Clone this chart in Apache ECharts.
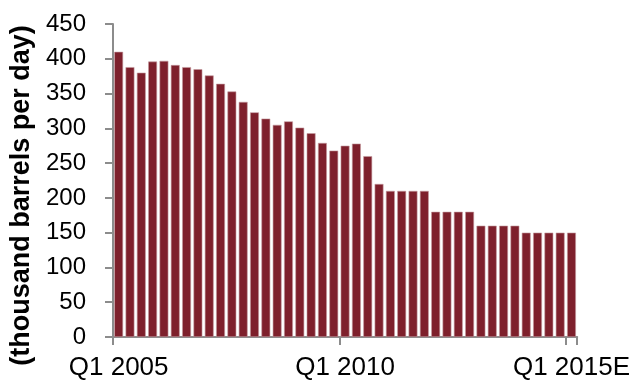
<!DOCTYPE html>
<html>
<head>
<meta charset="utf-8">
<script src="https://cdn.jsdelivr.net/npm/echarts@6/dist/echarts.min.js"></script>
<style>
  html, body { margin: 0; padding: 0; background: #ffffff; }
  #chart { width: 633px; height: 381px; }
</style>
</head>
<body>
<div id="chart"></div>
<script>
// Quarterly production, Q1 2005 through Q1 2015 (estimate)
const years = [2005, 2006, 2007, 2008, 2009, 2010, 2011, 2012, 2013, 2014, 2015];
const quarters = [];
years.forEach(function (y) {
  for (let q = 1; q <= 4; q++) {
    if (y === 2015 && q > 1) break;
    quarters.push('Q' + q + ' ' + y + (y === 2015 ? 'E' : ''));
  }
});

// thousand barrels per day
const production = [
  410, 388, 380, 396, 397, 391, 388, 385, 376, 364,
  353, 338, 323, 314, 305, 310, 301, 293, 279, 268,
  275, 278, 260, 220, 210, 210, 210, 210, 180, 180,
  180, 180, 160, 160, 160, 160, 150, 150, 150, 150,
  150
];

const yTicks = { min: 0, max: 450, step: 50 };

const axisGrey = '#8c8c8c';
const fontFamily = '"Liberation Sans", Arial, sans-serif';

const chart = echarts.init(document.getElementById('chart'), null, { renderer: 'canvas' });

chart.setOption({
  animation: false,
  backgroundColor: '#ffffff',
  grid: { left: 110, right: 54.5, top: 24, bottom: 43.5, containLabel: false },
  xAxis: {
    type: 'category',
    data: quarters,
    boundaryGap: true,
    axisLine: { lineStyle: { color: axisGrey, width: 2 } },
    axisTick: { show: true, interval: 19, length: 8, lineStyle: { color: axisGrey, width: 2 } },
    axisLabel: {
      interval: 19,
      margin: 18,
      color: '#000000',
      fontSize: 26,
      fontFamily: fontFamily
    },
    splitLine: { show: false }
  },
  yAxis: {
    type: 'value',
    min: yTicks.min,
    max: yTicks.max,
    interval: yTicks.step,
    name: '(thousand barrels per day)',
    nameLocation: 'middle',
    nameGap: 78,
    nameTextStyle: {
      color: '#000000',
      fontSize: 27,
      fontWeight: 'bold',
      fontFamily: fontFamily,
      padding: [0, 30, 0, 0]
    },
    axisLine: { show: true, lineStyle: { color: axisGrey, width: 2 } },
    axisTick: { show: true, length: 8, lineStyle: { color: axisGrey, width: 2 } },
    axisLabel: {
      margin: 27,
      color: '#000000',
      fontSize: 24,
      fontFamily: fontFamily
    },
    splitLine: { show: false }
  },
  series: [{
    type: 'bar',
    data: production,
    barCategoryGap: '22%',
    itemStyle: {
      color: '#7e202c',
      borderColor: '#c49aa0',
      borderWidth: 0.6
    }
  }]
});
</script>
</body>
</html>
